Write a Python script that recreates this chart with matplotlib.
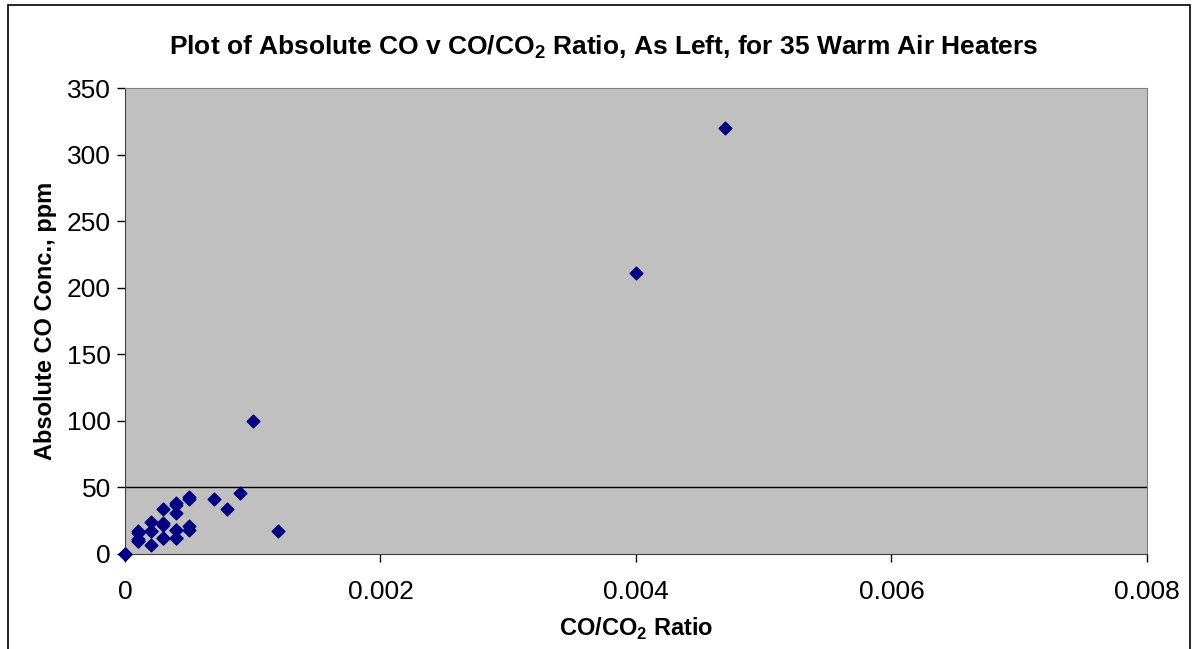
import matplotlib
matplotlib.use("Agg")
import matplotlib.pyplot as plt
from matplotlib.patches import Rectangle

plt.rcParams['font.family'] = ['Liberation Sans', 'DejaVu Sans']
plt.rcParams['mathtext.fontset'] = 'custom'
plt.rcParams['mathtext.rm'] = 'Liberation Sans'
plt.rcParams['mathtext.bf'] = 'Liberation Sans:bold'

# CO/CO2 ratio and absolute CO (ppm) for the 35 heaters
ratio = [0.0, 0.0, 0.0,
         0.0001, 0.0001, 0.0001, 0.0001,
         0.0002, 0.0002, 0.0002,
         0.0003, 0.0003, 0.0003, 0.0003,
         0.0004, 0.0004, 0.0004, 0.0004, 0.0004, 0.0004,
         0.0005, 0.0005, 0.0005, 0.0005,
         0.0007, 0.0008, 0.0009, 0.001, 0.0012,
         0.004, 0.0047,
         0.0001, 0.0002, 0.0003, 0.0004]
co_ppm = [0, 0, 0,
          17, 16, 11, 10,
          24, 17, 7,
          34, 23, 22, 12,
          38, 37, 31, 18, 12, 12,
          43, 41, 21, 18,
          41, 34, 46, 100, 17,
          211, 320,
          10, 17, 12, 18]

xticks = [0, 0.002, 0.004, 0.006, 0.008]
xtick_labels = ['0', '0.002', '0.004', '0.006', '0.008']
yticks = [0, 50, 100, 150, 200, 250, 300, 350]

fig = plt.figure(figsize=(11.94, 6.49), dpi=100)
fig.patches.append(Rectangle((0.007, -0.01), 0.99, 1.002, transform=fig.transFigure,
                             fill=False, edgecolor='black', linewidth=1.2))

ax = fig.add_axes([0.1047, 0.1464, 0.8559, 0.718])
ax.set_facecolor('#C0C0C0')
ax.axhline(50, color='black', linewidth=1, zorder=1)
ax.scatter(ratio, co_ppm, marker='D', s=42, color='#000080', zorder=3, clip_on=False)

ax.set_xlim(0, 0.008)
ax.set_ylim(0, 350)
ax.set_xticks(xticks)
ax.set_xticklabels(xtick_labels)
ax.set_yticks(yticks)
ax.tick_params(axis='both', direction='out', length=6, width=1, labelsize=19, colors='black')
ax.tick_params(axis='x', pad=13)
ax.tick_params(axis='y', pad=4)

for side in ['top', 'right']:
    ax.spines[side].set_color('#808080')
for side in ['left', 'bottom']:
    ax.spines[side].set_color('#404040')

ax.set_xlabel(r'CO/CO$_\mathbf{2}$ Ratio', fontsize=17, fontweight='bold', labelpad=8)
ax.set_ylabel('Absolute CO Conc., ppm', fontsize=17, fontweight='bold', labelpad=7)
ax.set_title(r'Plot of Absolute CO v CO/CO$_\mathbf{2}$ Ratio, As Left, for 35 Warm Air Heaters',
             fontsize=19, fontweight='bold', pad=24, x=0.468)

fig.savefig('out.png', dpi=100)
